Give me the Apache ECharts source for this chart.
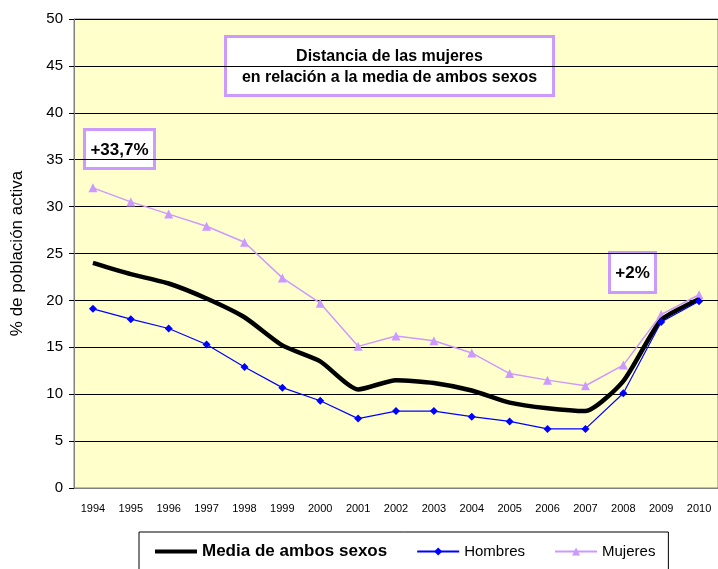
<!DOCTYPE html>
<html>
<head>
<meta charset="utf-8">
<script src="https://cdn.jsdelivr.net/npm/echarts@6/dist/echarts.min.js"></script>
<style>
  html, body { margin: 0; padding: 0; background: #fff; }
  #chart { width: 718px; height: 569px; }
</style>
</head>
<body>
<div id="chart"></div>
<script>
// ===================================================
//  DATOS
// ===================================================
const years = ['1994', '1995', '1996', '1997', '1998', '1999', '2000', '2001', '2002',
               '2003', '2004', '2005', '2006', '2007', '2008', '2009', '2010'];
const media   = [24.0, 22.8, 21.8, 20.2, 18.2, 15.2, 13.5, 10.5, 11.5, 11.2, 10.4, 9.1, 8.5, 8.2, 11.4, 17.9, 20.1];
const hombres = [19.1, 18.0, 17.0, 15.3, 12.9, 10.7, 9.3, 7.4, 8.2, 8.2, 7.6, 7.1, 6.3, 6.3, 10.1, 17.7, 19.9];
const mujeres = [32.0, 30.5, 29.2, 27.9, 26.2, 22.4, 19.7, 15.1, 16.2, 15.7, 14.4, 12.2, 11.5, 10.9, 13.1, 18.5, 20.6];

const font = 'Liberation Sans, Arial, sans-serif';
const lila = '#cc99ff';

// ===================================================
//  CAJAS DE TEXTO (anotaciones)
// ===================================================
function caja(x, y, w, h, texto, size) {
    return {
        type: 'group',
        left: x, top: y,
        children: [
            { type: 'rect', shape: { x: 0, y: 0, width: w, height: h },
              style: { fill: '#fff', stroke: lila, lineWidth: 3 } },
            { type: 'text', x: w / 2, y: h / 2 + 1,
              style: { text: texto, fill: '#000', font: 'bold ' + size + 'px ' + font,
                       align: 'center', verticalAlign: 'middle', lineHeight: 21 } }
        ]
    };
}

(function () {
    const el = document.getElementById('chart');
    const myChart = echarts.init(el);

    const option = {
        animation: false,
        textStyle: { fontFamily: font },
        grid: {
            left: 74, right: -1, top: 19, bottom: 81,
            show: true, backgroundColor: '#ffffcc', borderColor: '#808080', borderWidth: 1
        },
        legend: {
            left: 139, top: 532,
            padding: [11, 13, 16, 14],
            borderColor: '#000', borderWidth: 1, backgroundColor: '#fff',
            itemWidth: 42, itemHeight: 10, itemGap: 29,
            textStyle: { fontSize: 15, color: '#000' },
            data: [
                { name: 'Media de ambos sexos', itemStyle: { opacity: 0 },
                  lineStyle: { width: 4 },
                  textStyle: { fontWeight: 'bold', fontSize: 17 } },
                { name: 'Hombres' },
                { name: 'Mujeres' }
            ]
        },
        xAxis: {
            type: 'category',
            data: years,
            boundaryGap: true,
            axisLine: { lineStyle: { color: '#808080' } },
            axisTick: { length: 5, lineStyle: { color: '#000' } },
            axisLabel: { fontSize: 11, color: '#000', margin: 15, interval: 0 }
        },
        yAxis: {
            type: 'value',
            min: 0, max: 50, interval: 5,
            name: '% de población activa',
            nameLocation: 'middle',
            nameGap: 48,
            nameTextStyle: { fontSize: 17, color: '#000' },
            axisLine: { show: true, lineStyle: { color: '#808080' } },
            axisTick: { show: true, length: 5, lineStyle: { color: '#000' } },
            axisLabel: { fontSize: 15, color: '#000', margin: 11 },
            splitLine: { lineStyle: { color: '#000', width: 1 } }
        },
        series: [
            {
                name: 'Media de ambos sexos', type: 'line', data: media,
                smooth: 0.2, showSymbol: false, symbol: 'none',
                lineStyle: { color: '#000', width: 4.5 }, itemStyle: { color: '#000' },
                z: 3
            },
            {
                name: 'Hombres', type: 'line', data: hombres,
                symbol: 'diamond', symbolSize: 8,
                lineStyle: { color: '#0000ff', width: 1.2 },
                itemStyle: { color: '#0000ff' },
                z: 4
            },
            {
                name: 'Mujeres', type: 'line', data: mujeres,
                symbol: 'triangle', symbolSize: 9,
                lineStyle: { color: lila, width: 1.5 },
                itemStyle: { color: lila },
                z: 2
            }
        ],
        graphic: [
            caja(224, 35, 328, 59, 'Distancia de las mujeres\nen relación a la media de ambos sexos', 16),
            caja(83, 128, 70, 39, '+33,7%', 17),
            caja(608, 251, 46, 40, '+2%', 17)
        ]
    };

    myChart.setOption(option);
})();
</script>
</body>
</html>
